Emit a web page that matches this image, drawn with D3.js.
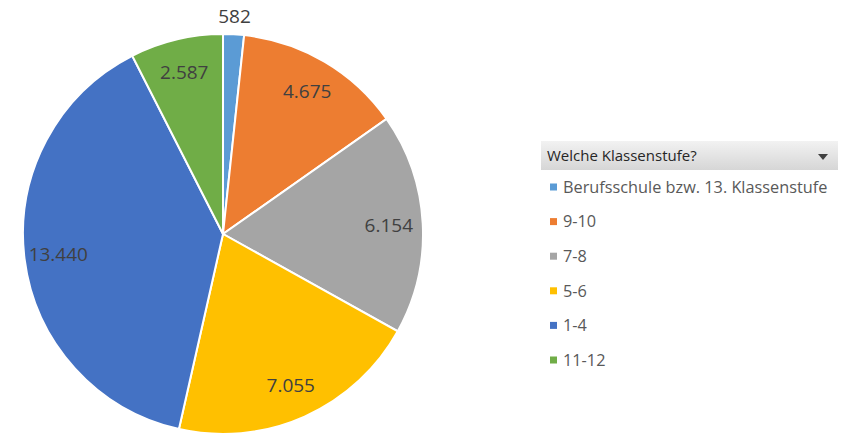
<!DOCTYPE html>
<html>
<head>
<meta charset="utf-8">
<script src="https://cdn.jsdelivr.net/npm/d3@7"></script>
<style>
body { margin: 0; background: #fff; }
svg { display: block; font-family: "Open Sans", "Liberation Sans", sans-serif; }
</style>
</head>
<body>
<svg id="main_svg" width="842" height="436"></svg>
<script>
// data, in drawing order (clockwise from 12 o'clock)
let categories = ["Berufsschule bzw. 13. Klassenstufe", "9-10", "7-8", "5-6", "1-4", "11-12"]
let values = [582, 4675, 6154, 7055, 13440, 2587]
let valueLabels = ["582", "4.675", "6.154", "7.055", "13.440", "2.587"]
let colors = ["#5b9bd5", "#ed7d31", "#a5a5a5", "#ffc000", "#4472c4", "#70ad47"]
let legendTitle = "Welche Klassenstufe?"

let svg = d3.select("#main_svg")
let cx = 223
let cy = 234
let r = 200

let slices = d3.pie().sort(null).value(d => d)(values)
let total = d3.sum(values)

let arc = d3.arc().innerRadius(0).outerRadius(r)
let inner_label = d3.arc().innerRadius(r * 0.83).outerRadius(r * 0.83)
let outer_label = d3.arc().innerRadius(r + 18).outerRadius(r + 18)

let pie = svg.append("g")
    .attr("transform", "translate(" + cx + "," + cy + ")")

pie.selectAll("path")
    .data(slices)
    .enter()
    .append("path")
    .attr("d", arc)
    .attr("fill", (d, i) => colors[i])
    .attr("stroke", "#fff")
    .attr("stroke-width", 2)

pie.selectAll("text")
    .data(slices)
    .enter()
    .append("text")
    .attr("transform", function(d) {
        let small = d.value / total < 0.05
        let p = small ? outer_label.centroid(d) : inner_label.centroid(d)
        return "translate(" + p[0] + "," + p[1] + ")"
    })
    .attr("text-anchor", "middle")
    .attr("dy", "0.35em")
    .attr("font-size", 19)
    .attr("fill", "#404040")
    .text((d, i) => valueLabels[i])

// legend with filter header
let lx = 541
let ly = 141

let defs = svg.append("defs")
let grad = defs.append("linearGradient")
    .attr("id", "head_grad")
    .attr("x1", 0).attr("y1", 0).attr("x2", 0).attr("y2", 1)
grad.append("stop").attr("offset", "0%").attr("stop-color", "#f2f2f2")
grad.append("stop").attr("offset", "100%").attr("stop-color", "#d6d6d6")

svg.append("rect")
    .attr("x", lx)
    .attr("y", ly)
    .attr("width", 297)
    .attr("height", 29)
    .attr("fill", "url(#head_grad)")

svg.append("text")
    .attr("x", lx + 6)
    .attr("y", ly + 20)
    .attr("font-size", 15)
    .attr("fill", "#262626")
    .text(legendTitle)

svg.append("path")
    .attr("d", "M" + (lx + 277) + "," + (ly + 13) + "l10,0l-5,6z")
    .attr("fill", "#404040")

let legendY = d3.scalePoint()
    .domain(categories)
    .range([ly + 46, ly + 219])

let items = svg.selectAll(".leg")
    .data(categories)
    .enter()
    .append("g")
    .attr("class", "leg")
    .attr("transform", d => "translate(" + (lx + 9) + "," + legendY(d) + ")")

items.append("rect")
    .attr("x", 0)
    .attr("y", -3.5)
    .attr("width", 7)
    .attr("height", 7)
    .attr("fill", (d, i) => colors[i])

items.append("text")
    .attr("x", 13)
    .attr("dy", "0.35em")
    .attr("font-size", 16.3)
    .attr("fill", "#595959")
    .text(d => d)
</script>
</body>
</html>
